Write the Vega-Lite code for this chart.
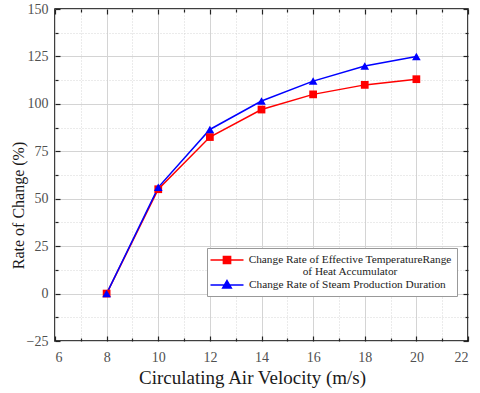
{
  "$schema": "https://vega.github.io/schema/vega-lite/v6.json",
  "width": 413,
  "height": 332,
  "autosize": "none",
  "padding": {"left": 55, "top": 9, "right": 12, "bottom": 52},
  "background": "white",
  "config": {
    "view": {"stroke": "black", "strokeWidth": 1.5},
    "font": "Liberation Serif",
    "axis": {"titleColor": "#1a1a1a", "titleFontWeight": "normal", "tickColor": "#222", "tickWidth": 1.2, "domain": false}
  },
  "data": {"values": [
    {"v": 8, "r": 0, "s": "Change Rate of Effective TemperatureRange of Heat Accumulator"},
    {"v": 10, "r": 55, "s": "Change Rate of Effective TemperatureRange of Heat Accumulator"},
    {"v": 12, "r": 82.5, "s": "Change Rate of Effective TemperatureRange of Heat Accumulator"},
    {"v": 14, "r": 97, "s": "Change Rate of Effective TemperatureRange of Heat Accumulator"},
    {"v": 16, "r": 105, "s": "Change Rate of Effective TemperatureRange of Heat Accumulator"},
    {"v": 18, "r": 110, "s": "Change Rate of Effective TemperatureRange of Heat Accumulator"},
    {"v": 20, "r": 113, "s": "Change Rate of Effective TemperatureRange of Heat Accumulator"},
    {"v": 8, "r": 0, "s": "Change Rate of Steam Production Duration"},
    {"v": 10, "r": 56, "s": "Change Rate of Steam Production Duration"},
    {"v": 12, "r": 86.5, "s": "Change Rate of Steam Production Duration"},
    {"v": 14, "r": 101.5, "s": "Change Rate of Steam Production Duration"},
    {"v": 16, "r": 112, "s": "Change Rate of Steam Production Duration"},
    {"v": 18, "r": 120, "s": "Change Rate of Steam Production Duration"},
    {"v": 20, "r": 125, "s": "Change Rate of Steam Production Duration"}
  ]},
  "resolve": {"axis": {"x": "independent", "y": "independent"}},
  "layer": [
    {
      "mark": {"type": "line", "strokeWidth": 1.5},
      "encoding": {
        "x": {"field": "v", "type": "quantitative", "scale": {"domain": [6, 22], "nice": false},
          "axis": {"orient": "bottom", "values": [6, 8, 10, 12, 14, 16, 18, 20, 22], "title": "Circulating Air Velocity (m/s)", "labelFont": "Liberation Serif", "labelFontSize": 14, "labelColor": "#505050", "titleFont": "Liberation Serif", "titleFontSize": 19, "titleX": 197, "titleY": 42, "titleBaseline": "alphabetic", "titleAlign": "center", "tickSize": -5, "labelPadding": 14, "grid": true, "gridColor": "#d4d4d4", "gridWidth": 1}},
        "y": {"field": "r", "type": "quantitative", "scale": {"domain": [-25, 150], "nice": false, "zero": false},
          "axis": {"orient": "left", "values": [-25, 0, 25, 50, 75, 100, 125, 150], "title": "Rate of Change  (%)", "labelFont": "Liberation Serif", "labelFontSize": 14, "labelColor": "#505050", "titleFont": "Liberation Serif", "titleFontSize": 16, "titleX": -37, "titleY": 196, "titleBaseline": "middle", "titleAlign": "center", "tickSize": -5, "labelPadding": 12, "grid": true, "gridColor": "#d4d4d4", "gridWidth": 1}},
        "color": {"field": "s", "type": "nominal",
          "scale": {"domain": ["Change Rate of Effective TemperatureRange of Heat Accumulator", "Change Rate of Steam Production Duration"], "range": ["#ff0000", "#0000ff"]},
          "legend": {"title": null, "orient": "none", "legendX": 152, "legendY": 239,
            "fillColor": "white", "strokeColor": "#999", "padding": 5,
            "labelFont": "Liberation Serif", "labelFontSize": 11.3, "labelColor": "#222", "labelLimit": 0,
            "symbolSize": 144, "symbolOffset": 8, "labelOffset": 15, "rowPadding": 0,
            "labelExpr": "datum.label == 'Change Rate of Effective TemperatureRange of Heat Accumulator' ? ['Change Rate of Effective TemperatureRange', 'of Heat Accumulator'] : datum.label",
            "encode": {
              "labels": {"update": {
                "lineHeight": {"value": 11.5},
                "align": {"signal": "datum.value == 'Change Rate of Steam Production Duration' ? 'left' : 'center'"},
                "dx": {"signal": "datum.value == 'Change Rate of Steam Production Duration' ? 0 : 101"}
              }},
              "symbols": {"update": {
              "shape": {"signal": "datum.value == 'Change Rate of Steam Production Duration' ? 'M-2.75,0H2.75M0,-0.75L0.72,0.5H-0.72Z' : 'M-2.75,0H2.75M-0.6,-0.6H0.6V0.6H-0.6Z'"},
              "fill": {"signal": "datum.value == 'Change Rate of Steam Production Duration' ? '#0000ff' : '#ff0000'"},
              "stroke": {"signal": "datum.value == 'Change Rate of Steam Production Duration' ? '#0000ff' : '#ff0000'"},
              "fillOpacity": {"value": 1},
              "opacity": {"value": 1},
              "strokeWidth": {"value": 1.5}
            }}}
          }}
      }
    },
    {
      "mark": {"type": "point", "opacity": 0},
      "encoding": {
        "x": {"field": "v", "type": "quantitative",
          "axis": {"orient": "bottom", "values": [7, 9, 11, 13, 15, 17, 19, 21], "labels": false, "title": null, "tickSize": -3, "grid": true, "gridColor": "#cccccc", "gridDash": [1, 2], "gridWidth": 0.8}},
        "y": {"field": "r", "type": "quantitative",
          "axis": {"orient": "left", "values": [-12.5, 12.5, 37.5, 62.5, 87.5, 112.5, 137.5], "labels": false, "title": null, "tickSize": -3, "grid": true, "gridColor": "#cccccc", "gridDash": [1, 2], "gridWidth": 0.8}}
      }
    },
    {
      "mark": {"type": "point", "opacity": 0},
      "encoding": {
        "x": {"field": "v", "type": "quantitative",
          "axis": {"orient": "top", "values": [7, 9, 11, 13, 15, 17, 19, 21], "labels": false, "title": null, "tickSize": -3, "grid": false}},
        "y": {"field": "r", "type": "quantitative",
          "axis": {"orient": "right", "values": [-12.5, 12.5, 37.5, 62.5, 87.5, 112.5, 137.5], "labels": false, "title": null, "tickSize": -3, "grid": false}}
      }
    },
    {
      "mark": {"type": "point", "opacity": 0},
      "encoding": {
        "x": {"field": "v", "type": "quantitative",
          "axis": {"orient": "top", "values": [6, 8, 10, 12, 14, 16, 18, 20, 22], "labels": false, "title": null, "tickSize": -5, "grid": false}},
        "y": {"field": "r", "type": "quantitative",
          "axis": {"orient": "right", "values": [-25, 0, 25, 50, 75, 100, 125, 150], "labels": false, "title": null, "tickSize": -5, "grid": false}}
      }
    },
    {
      "transform": [{"filter": "datum.s == 'Change Rate of Effective TemperatureRange of Heat Accumulator'"}],
      "mark": {"type": "point", "filled": true, "opacity": 1, "size": 60, "shape": "square", "color": "#ff0000"},
      "encoding": {
        "x": {"field": "v", "type": "quantitative", "axis": null},
        "y": {"field": "r", "type": "quantitative", "axis": null}
      }
    },
    {
      "transform": [{"filter": "datum.s == 'Change Rate of Steam Production Duration'"}],
      "mark": {"type": "point", "filled": true, "opacity": 1, "size": 75, "shape": "triangle-up", "color": "#0000ff"},
      "encoding": {
        "x": {"field": "v", "type": "quantitative", "axis": null},
        "y": {"field": "r", "type": "quantitative", "axis": null}
      }
    }
  ]
}
